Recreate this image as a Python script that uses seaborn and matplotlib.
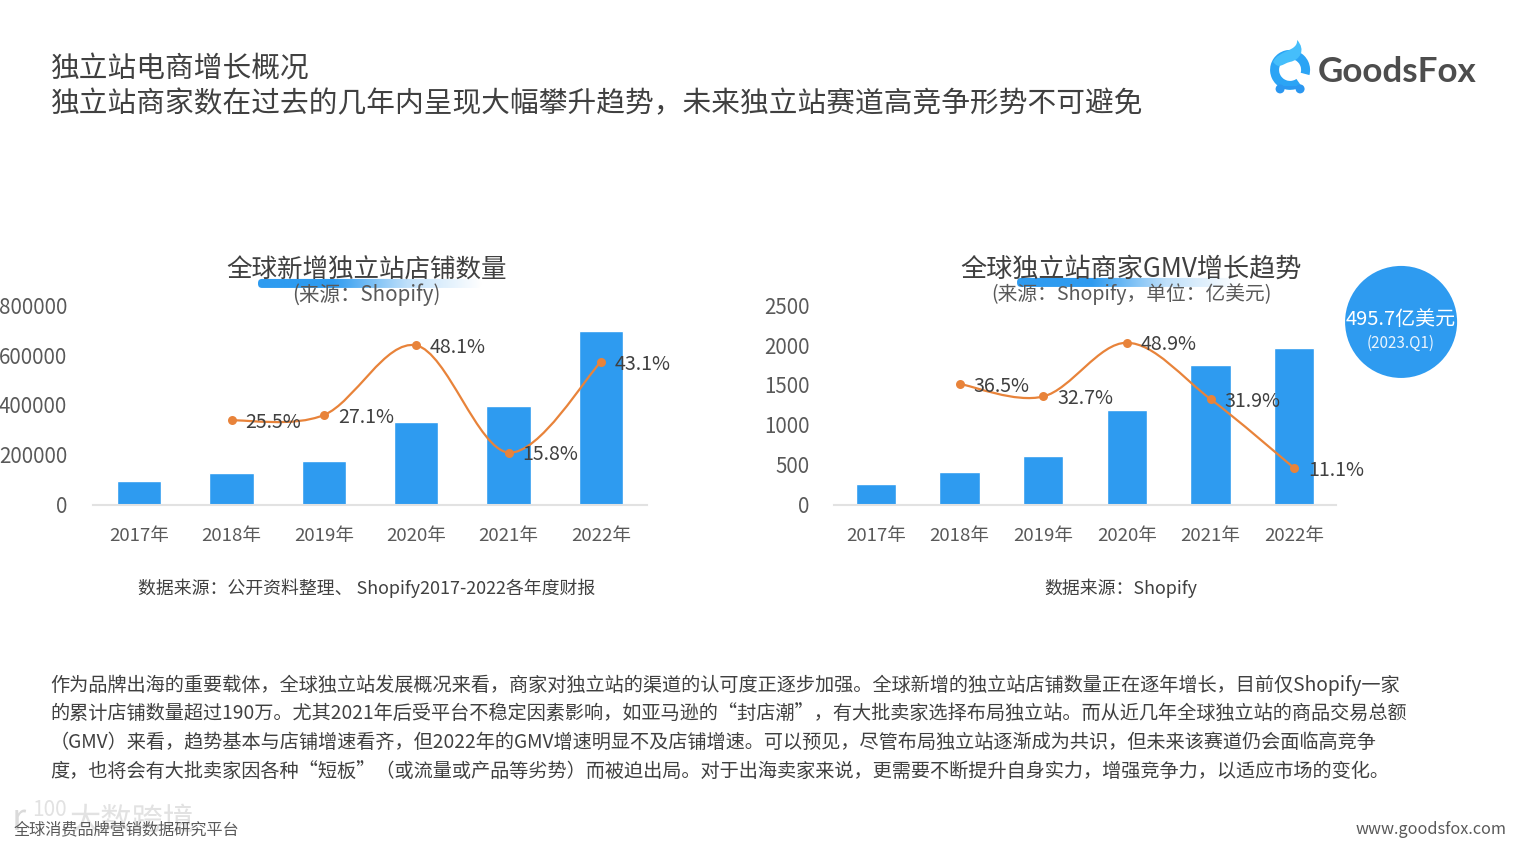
import numpy as np
import pandas as pd
import seaborn as sns
import matplotlib
matplotlib.use("Agg")
import matplotlib.pyplot as plt
from matplotlib.colors import LinearSegmentedColormap
from matplotlib.patches import Circle, FancyBboxPatch, PathPatch, Rectangle, Wedge
from matplotlib.path import Path
from matplotlib.transforms import ScaledTranslation

years = ["2017年", "2018年", "2019年", "2020年", "2021年", "2022年"]

stores = [96000, 129000, 177000, 334000, 398000, 699000]
stores_growth = [25.5, 27.1, 48.1, 15.8, 43.1]
stores_ticks = [0, 200000, 400000, 600000, 800000]

gmv = [263, 414, 615, 1193, 1758, 1972]
gmv_growth = [36.5, 32.7, 48.9, 31.9, 11.1]
gmv_ticks = [0, 500, 1000, 1500, 2000, 2500]

title_lines = ["独立站电商增长概况", "独立站商家数在过去的几年内呈现大幅攀升趋势，未来独立站赛道高竞争形势不可避免"]
body_lines = [
    "作为品牌出海的重要载体，全球独立站发展概况来看，商家对独立站的渠道的认可度正逐步加强。全球新增的独立站店铺数量正在逐年增长，目前仅Shopify一家",
    "的累计店铺数量超过190万。尤其2021年后受平台不稳定因素影响，如亚马逊的“封店潮”，有大批卖家选择布局独立站。而从近几年全球独立站的商品交易总额",
    "（GMV）来看，趋势基本与店铺增速看齐，但2022年的GMV增速明显不及店铺增速。可以预见，尽管布局独立站逐渐成为共识，但未来该赛道仍会面临高竞争",
    "度，也将会有大批卖家因各种“短板”（或流量或产品等劣势）而被迫出局。对于出海卖家来说，更需要不断提升自身实力，增强竞争力，以适应市场的变化。",
]

W, H = 1517, 845
BLUE = "#2E9BF0"
ORANGE = "#E8833A"
DARK = "#404040"
GREY = "#595959"

sns.set_theme(style="white")
plt.rcParams["font.family"] = ["Noto Sans CJK SC", "DejaVu Sans"]


def smooth_path(xs, ys):
    # same kind of smoothing as an office chart: bezier through every point
    pts = np.column_stack([xs, ys]).astype(float)
    verts = [pts[0]]
    codes = [Path.MOVETO]
    for i in range(len(pts) - 1):
        before = pts[max(i - 1, 0)]
        after = pts[min(i + 2, len(pts) - 1)]
        verts += [pts[i] + (pts[i + 1] - before) / 6, pts[i + 1] - (after - pts[i]) / 6, pts[i + 1]]
        codes += [Path.CURVE4] * 3
    return Path(verts, codes)


def combo_chart(rect, values, growth, ticks, tick_pad):
    left, top, width, height = rect
    ax = fig.add_axes([left / W, 1 - (top + height) / H, width / W, height / H], zorder=2)
    ax.patch.set_visible(False)
    df = pd.DataFrame({"year": years, "value": values})
    sns.barplot(data=df, x="year", y="value", color=BLUE, saturation=1, width=0.48, ax=ax)
    ax.set_xlim(-0.5, len(years) - 0.5)
    ax.set_ylim(ticks[0], ticks[-1])
    ax.set_yticks(ticks)
    ax.set_xlabel("")
    ax.set_ylabel("")
    ax.tick_params(axis="y", length=0, pad=tick_pad, labelsize=14.8, labelcolor=GREY)
    ax.tick_params(axis="x", length=0, pad=16, labelsize=13.4, labelcolor=GREY)
    up = ScaledTranslation(0, 0.007, fig.dpi_scale_trans)
    for label in ax.get_yticklabels():
        label.set_transform(label.get_transform() + up)
    sns.despine(ax=ax, left=True, top=True, right=True)
    ax.spines["bottom"].set_color("#E2E2E2")
    ax.spines["bottom"].set_linewidth(1.5)

    ax2 = ax.twinx()
    ax2.set_ylim(0, 60)
    ax2.axis("off")
    xs = np.arange(1, len(years))
    ax2.add_patch(PathPatch(smooth_path(xs, growth), fill=False, edgecolor=ORANGE, lw=1.6, zorder=3))
    sns.scatterplot(x=xs, y=growth, color=ORANGE, s=42, linewidth=0, zorder=4, ax=ax2)
    ax2.set_ylim(0, 60)
    ax2.set_xlim(-0.5, len(years) - 0.5)
    for x, g in zip(xs, growth):
        ax2.annotate(f"{g}%", (x, g), xytext=(10, -1.5), textcoords="offset points",
                     va="center", ha="left", fontsize=14.1, color=DARK, zorder=5)
    return ax


def gradient_bar(x0, x1, y, h):
    cmap = LinearSegmentedColormap.from_list("fade", [BLUE, BLUE, "#BFE0FA", "#FFFFFF"])
    img = page.imshow(np.linspace(0, 1, 256).reshape(1, -1), cmap=cmap, aspect="auto",
                      extent=(x0, x1, y + h, y), zorder=1)
    clip = FancyBboxPatch((x0 + 4, y + 4), x1 - x0 - 8, h - 8, boxstyle="round,pad=4",
                          transform=page.transData, fc="none", ec="none")
    page.add_patch(clip)
    img.set_clip_path(clip)


# the small extra keeps 8.45 in from rounding down to 844 rows
fig = plt.figure(figsize=((W + 0.1) / 100, (H + 0.1) / 100), dpi=100, facecolor="white")

# full page layer in pixel coordinates for the slide furniture
page = fig.add_axes([0, 0, 1, 1], zorder=1)
page.axis("off")

for text, y in zip(title_lines, [69.5, 104.5]):
    page.text(50, y, text, fontsize=20.66, color=DARK, va="center", ha="left", zorder=3)

gradient_bar(258, 481, 279, 9)
gradient_bar(1017, 1240, 278, 9)

page.text(367, 271, "全球新增独立站店铺数量", fontsize=18.4, color=DARK, ha="center", va="center", zorder=3)
page.text(366, 295, "(来源：Shopify)", fontsize=14.8, color=GREY, ha="center", va="center", zorder=3)
page.text(1131, 269, "全球独立站商家GMV增长趋势", fontsize=18.8, color=DARK, ha="center", va="center", zorder=3)
page.text(1131, 294, "(来源：Shopify，单位：亿美元)", fontsize=14.2, color=GREY, ha="center", va="center", zorder=3)

page.text(367, 588, "数据来源：公开资料整理、 Shopify2017-2022各年度财报", fontsize=12.9, color=DARK,
          ha="center", va="center", zorder=3)
page.text(1121, 588, "数据来源：Shopify", fontsize=12.9, color=DARK, ha="center", va="center", zorder=3)

for text, y in zip(body_lines, [685, 713, 742, 771]):
    page.text(50, y, text, fontsize=13.81, color=DARK, ha="left", va="center", zorder=3)

page.add_patch(Circle((1401, 322), 56, fc=BLUE, ec="none", zorder=2))
page.text(1401, 319, "495.7亿美元", fontsize=14.4, color="white", ha="center", va="center", zorder=3)
page.text(1401, 343.5, "(2023.Q1)", fontsize=11, color="#E8F4FE", ha="center", va="center", zorder=3)

# logo
page.add_patch(Wedge((1290, 70), 20, 55, 15, width=9, fc="#2BA4F5", ec="none", zorder=2))
flame = Path([(1273, 62), (1278, 50), (1298, 52), (1297, 40), (1306, 50), (1300, 60), (1290, 62), (1282, 64), (1279, 70), (1273, 62)],
             [Path.MOVETO, Path.CURVE4, Path.CURVE4, Path.CURVE4, Path.CURVE4, Path.CURVE4, Path.CURVE4, Path.CURVE4, Path.CURVE4, Path.CURVE4])
page.add_patch(PathPatch(flame, fc="#45BEFB", ec="none", zorder=2))
page.add_patch(Rectangle((1279, 86), 21, 3, fc="#2B97F0", ec="none", zorder=2))
page.add_patch(Circle((1280, 89), 4.5, fc="#2B97F0", ec="none", zorder=2))
page.add_patch(Circle((1300, 89), 4.5, fc="#2B97F0", ec="none", zorder=2))
page.text(1318, 72, "GoodsFox", fontsize=25.2, fontweight="bold", family="Lato", color="#4D4D4D",
          ha="left", va="center", zorder=3)

# faint watermark under the footer
page.text(12, 820, "r", fontsize=26, color="#DADADA", ha="left", va="center", zorder=1.5)
page.text(32, 810, "100", fontsize=15, color="#E2E2E2", ha="left", va="center", zorder=1.5)
page.text(70, 821, "大数跨境", fontsize=22.5, color="#E2E2E2", ha="left", va="center", zorder=1.5)

page.text(14, 829.5, "全球消费品牌营销数据研究平台", fontsize=11.6, color=GREY, ha="left", va="center", zorder=3)
page.text(1506, 829.5, "www.goodsfox.com", fontsize=11.7, color=GREY, ha="right", va="center", zorder=3)

page.set_xlim(0, W)
page.set_ylim(H, 0)

combo_chart((93, 306, 554, 199), stores, stores_growth, stores_ticks, 18.5)
combo_chart((834, 306, 502, 199), gmv, gmv_growth, gmv_ticks, 17.5)

fig.savefig("out.png", dpi=100)
